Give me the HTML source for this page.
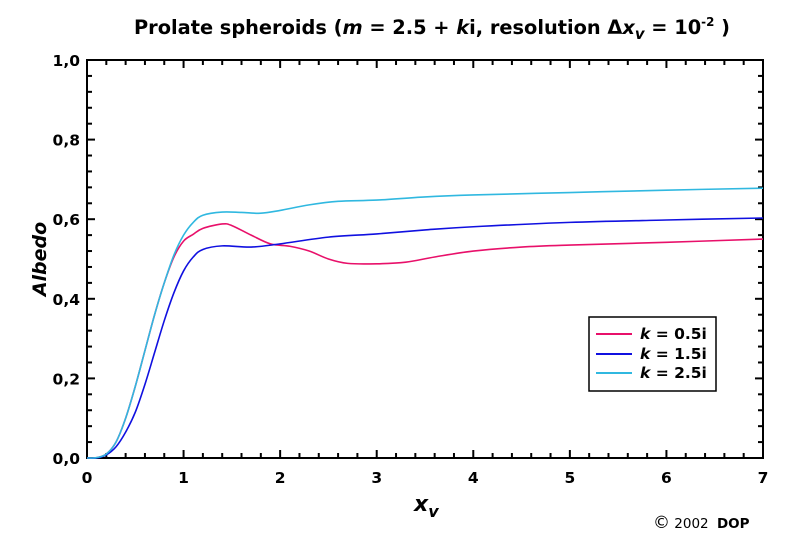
<!DOCTYPE html>
<html><head><meta charset="utf-8"><style>
body{margin:0;background:#fff;}
svg{display:block;font-family:"DejaVu Sans","Liberation Sans",sans-serif;}
</style></head><body>
<svg id="s" width="786" height="545" viewBox="0 0 786 545">
<text x="432" y="34" text-anchor="middle" font-size="19.5" font-weight="bold" textLength="596" lengthAdjust="spacingAndGlyphs">Prolate spheroids (<tspan font-style="italic">m</tspan> = 2.5 + <tspan font-style="italic">k</tspan>i, resolution Δ<tspan font-style="italic">x</tspan><tspan font-style="italic" font-size="15" dy="5">v</tspan><tspan dy="-5"> = 10</tspan><tspan font-size="12" dy="-8">-2</tspan><tspan dy="8"> )</tspan></text>
<g id="ax" stroke="#000" stroke-width="2" fill="none"></g>
<g id="cv" fill="none" stroke-width="1.6"></g>
<g id="lb" font-size="15.5" font-weight="bold"></g>
<text transform="translate(46,259) rotate(-90)" text-anchor="middle" font-size="19" font-weight="bold" font-style="italic">Albedo</text>
<text x="414" y="511" font-size="22" font-weight="bold" font-style="italic">x<tspan font-size="16" dy="6">v</tspan></text>
<rect x="589" y="317" width="127" height="74" fill="#fff" stroke="#000" stroke-width="1.5"/>
<line x1="596" y1="334" x2="632" y2="334" stroke="#e8106a" stroke-width="2"/>
<line x1="596" y1="354" x2="632" y2="354" stroke="#1010e0" stroke-width="2"/>
<line x1="596" y1="373" x2="632" y2="373" stroke="#30b8e0" stroke-width="2"/>
<g font-size="15.5" font-weight="bold">
<text x="640" y="339"><tspan font-style="italic">k</tspan> = 0.5i</text>
<text x="640" y="359"><tspan font-style="italic">k</tspan> = 1.5i</text>
<text x="640" y="378"><tspan font-style="italic">k</tspan> = 2.5i</text>
</g>
<text x="653" y="528" font-size="13.5"><tspan font-size="17">©</tspan> 2002 <tspan font-weight="bold" dx="4">DOP</tspan></text>
</svg>
<script>
var X0=87,X1=763,Y0=458,Y1=60;
function px(x){return X0+(X1-X0)*x/7;} function py(y){return Y0-(Y0-Y1)*y;}
var ax=document.getElementById('ax'),lb=document.getElementById('lb'),h='';
h+='<rect x="'+X0+'" y="'+Y1+'" width="'+(X1-X0)+'" height="'+(Y0-Y1)+'"/>';
for(var i=0;i<=35;i++){var x=px(i/5),L=(i%5==0)?8:5;h+='<line x1="'+x+'" y1="'+Y0+'" x2="'+x+'" y2="'+(Y0-L)+'"/><line x1="'+x+'" y1="'+Y1+'" x2="'+x+'" y2="'+(Y1+L)+'"/>';}
for(var i=0;i<=25;i++){var y=py(i/25),L=(i%5==0)?8:5;h+='<line x1="'+X0+'" y1="'+y+'" x2="'+(X0+L)+'" y2="'+y+'"/><line x1="'+X1+'" y1="'+y+'" x2="'+(X1-L)+'" y2="'+y+'"/>';}
ax.innerHTML=h;var t='';
for(var i=0;i<=7;i++)t+='<text x="'+px(i)+'" y="483" text-anchor="middle">'+i+'</text>';
for(var i=0;i<=5;i++)t+='<text x="80" y="'+(py(i/5)+6)+'" text-anchor="end">'+(i*0.2).toFixed(1).replace('.',',')+'</text>';
lb.innerHTML=t;
var D={
'#e8106a':[[0,0],[0.1,0.001],[0.2,0.01],[0.3,0.04],[0.4,0.1],[0.5,0.18],[0.6,0.27],[0.7,0.36],[0.8,0.44],[0.9,0.505],[1,0.545],[1.1,0.562],[1.2,0.577],[1.4,0.588],[1.5,0.584],[1.7,0.56],[1.9,0.538],[2.1,0.532],[2.3,0.52],[2.5,0.5],[2.7,0.489],[3,0.488],[3.3,0.492],[3.6,0.505],[4,0.52],[4.5,0.53],[5,0.535],[6,0.542],[7,0.55]],
'#1010e0':[[0,0],[0.1,0.0],[0.2,0.008],[0.3,0.028],[0.4,0.065],[0.5,0.115],[0.6,0.185],[0.7,0.265],[0.8,0.345],[0.9,0.415],[1,0.47],[1.1,0.505],[1.2,0.524],[1.4,0.533],[1.7,0.53],[2,0.538],[2.5,0.555],[3,0.563],[3.5,0.573],[4,0.581],[5,0.592],[6,0.598],[7,0.603]],
'#30b8e0':[[0,0],[0.1,0.001],[0.2,0.01],[0.3,0.04],[0.4,0.1],[0.5,0.18],[0.6,0.27],[0.7,0.36],[0.8,0.44],[0.9,0.51],[1,0.56],[1.1,0.592],[1.2,0.61],[1.4,0.618],[1.6,0.617],[1.8,0.615],[2,0.622],[2.3,0.636],[2.6,0.645],[3,0.648],[3.5,0.656],[4,0.661],[5,0.667],[6,0.673],[7,0.678]]};
var cv=document.getElementById('cv'),s='';
for(var c in D){var p=D[c].map(function(q){return[px(q[0]),py(q[1])];});var d='M'+p[0][0]+','+p[0][1];
for(var i=0;i<p.length-1;i++){var a=p[Math.max(0,i-1)],b=p[i],e=p[i+1],f=p[Math.min(p.length-1,i+2)];
d+=' C'+(b[0]+(e[0]-a[0])/6)+','+(b[1]+(e[1]-a[1])/6)+' '+(e[0]-(f[0]-b[0])/6)+','+(e[1]-(f[1]-b[1])/6)+' '+e[0]+','+e[1];}
s+='<path d="'+d+'" stroke="'+c+'"/>';}
cv.innerHTML=s;
</script>
</body></html>
